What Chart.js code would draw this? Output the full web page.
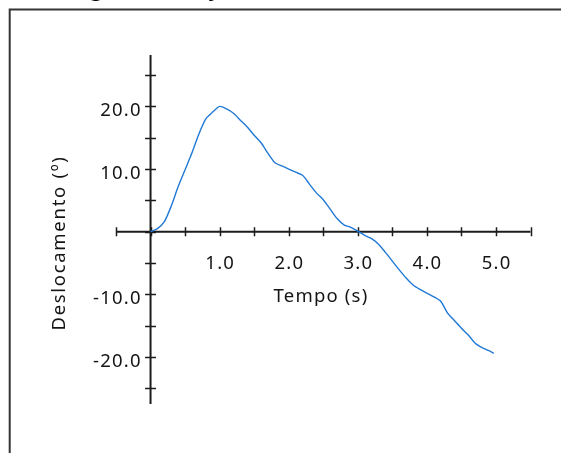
<!DOCTYPE html>
<html lang="pt">
    <head>
        <meta charset="utf-8" />
        <script src="https://cdn.jsdelivr.net/npm/chart.js@4.4.0/dist/chart.umd.min.js"></script>
        <title>Deslocamento x Tempo</title>
        <style>
            body { margin: 0; background: #fff; }
        </style>
    </head>
    <body>
        <canvas id="grafico" width="561" height="453"></canvas>
        <script>
            // tempo (s) e deslocamento (º)
            var tempos = [0, 0.1, 0.2, 0.3, 0.4, 0.5, 0.6, 0.7, 0.8, 0.9, 1.0, 1.1, 1.2, 1.3, 1.4, 1.5, 1.6, 1.7, 1.8, 1.9,
                2.0, 2.1, 2.2, 2.3, 2.4, 2.5, 2.6, 2.7, 2.8, 2.9, 3.0, 3.1, 3.2, 3.3, 3.4, 3.5, 3.6, 3.7, 3.8, 3.9,
                4.0, 4.1, 4.2, 4.3, 4.4, 4.5, 4.6, 4.7, 4.8, 4.9, 4.97];
            var deslocamentos = [0, 0.5, 1.6, 4.1, 7.2, 9.9, 12.6, 15.6, 18.0, 19.1, 20.0, 19.6, 18.9, 17.8, 16.7, 15.4, 14.2, 12.5, 11.0, 10.5,
                10.0, 9.5, 9.0, 7.6, 6.2, 5.1, 3.6, 2.1, 1.1, 0.7, 0.1, -0.6, -1.1, -2.0, -3.3, -4.7, -6.1, -7.4, -8.5, -9.2,
                -9.8, -10.4, -11.1, -13.0, -14.2, -15.4, -16.5, -17.8, -18.5, -19.0, -19.4];

            var xTicks = [-0.5, 0, 0.5, 1, 1.5, 2, 2.5, 3, 3.5, 4, 4.5, 5, 5.5];
            var xLabelValues = [1, 2, 3, 4, 5];
            var xLabels = ["1.0", "2.0", "3.0", "4.0", "5.0"];
            var yTicks = [-25, -20, -15, -10, -5, 0, 5, 10, 15, 20, 25];
            var yLabelValues = [20, 10, -10, -20];
            var yLabels = ["20.0", "10.0", "-10.0", "-20.0"];

            var tituloTopo = "Ângulo do objeto";
            var tituloX = "Tempo (s)";
            var tituloY = "Deslocamento (º)";

            var pontos = tempos.map((t, i) => ({ x: t, y: deslocamentos[i] }));

            var corEixo = "#1c1c1c";
            var corTexto = "#141414";
            var fonte = "18.5px 'Noto Sans'";

            // moldura, eixos cruzados na origem e textos
            var eixosCruzados = {
                id: "eixosCruzados",
                beforeDraw(chart) {
                    var ctx = chart.ctx;
                    ctx.save();
                    ctx.fillStyle = "#fff";
                    ctx.fillRect(0, 0, chart.width, chart.height);
                    ctx.strokeStyle = "#353535";
                    ctx.lineWidth = 2;
                    ctx.beginPath();
                    ctx.moveTo(9.7, chart.height);
                    ctx.lineTo(9.7, 9.5);
                    ctx.lineTo(chart.width, 9.5);
                    ctx.stroke();
                    ctx.fillStyle = "#000";
                    ctx.font = "24px 'Noto Sans'";
                    ctx.textBaseline = "alphabetic";
                    ctx.fillText(tituloTopo, 59, -5);
                    ctx.restore();
                },
                beforeDatasetsDraw(chart) {
                    var ctx = chart.ctx;
                    var sx = chart.scales.x, sy = chart.scales.y;
                    var x0 = sx.getPixelForValue(0), y0 = sy.getPixelForValue(0);
                    ctx.save();
                    ctx.strokeStyle = corEixo;
                    ctx.lineWidth = 2;
                    ctx.beginPath();
                    ctx.moveTo(sx.getPixelForValue(sx.min), y0);
                    ctx.lineTo(sx.getPixelForValue(sx.max), y0);
                    ctx.moveTo(x0, sy.getPixelForValue(sy.max));
                    ctx.lineTo(x0, sy.getPixelForValue(sy.min));
                    ctx.stroke();
                    ctx.lineWidth = 1.5;
                    ctx.beginPath();
                    xTicks.forEach((v) => {
                        var px = Math.round(sx.getPixelForValue(v)) + 0.5;
                        ctx.moveTo(px, y0 - 4.5);
                        ctx.lineTo(px, y0 + 4.5);
                    });
                    yTicks.forEach((v) => {
                        var py = Math.round(sy.getPixelForValue(v)) + 0.5;
                        ctx.moveTo(x0 - 5.5, py);
                        ctx.lineTo(x0 + 5.5, py);
                    });
                    ctx.stroke();

                    ctx.fillStyle = corTexto;
                    ctx.font = fonte;
                    ctx.letterSpacing = "1.2px";
                    ctx.textBaseline = "alphabetic";
                    ctx.textAlign = "center";
                    xLabelValues.forEach((v, i) => {
                        ctx.fillText(xLabels[i], sx.getPixelForValue(v) + 0.6, y0 + 37.5);
                    });
                    ctx.textAlign = "right";
                    yLabelValues.forEach((v, i) => {
                        ctx.fillText(yLabels[i], x0 - 8.8, sy.getPixelForValue(v) + 9.5);
                    });
                    ctx.textAlign = "center";
                    ctx.fillText(tituloX, 321, y0 + 70.5);
                    ctx.letterSpacing = "1.7px";
                    ctx.translate(65, 243);
                    ctx.rotate(-Math.PI / 2);
                    ctx.fillText(tituloY, 0, 0);
                    ctx.restore();
                },
            };

            new Chart(document.getElementById("grafico").getContext("2d"), {
                type: "line",
                data: {
                    datasets: [
                        {
                            data: pontos,
                            borderColor: "#2179d6",
                            borderWidth: 1.4,
                            pointRadius: 0,
                            tension: 0.25,
                            fill: false,
                        },
                    ],
                },
                options: {
                    responsive: false,
                    animation: false,
                    layout: {
                        padding: { left: 116, right: 30.5, top: 55, bottom: 49 },
                    },
                    scales: {
                        x: { type: "linear", min: -0.5, max: 5.5, display: false },
                        y: { type: "linear", min: -27.5, max: 28.2, display: false },
                    },
                    plugins: {
                        legend: { display: false },
                        tooltip: { enabled: false },
                    },
                },
                plugins: [eixosCruzados],
            });
        </script>
    </body>
</html>
